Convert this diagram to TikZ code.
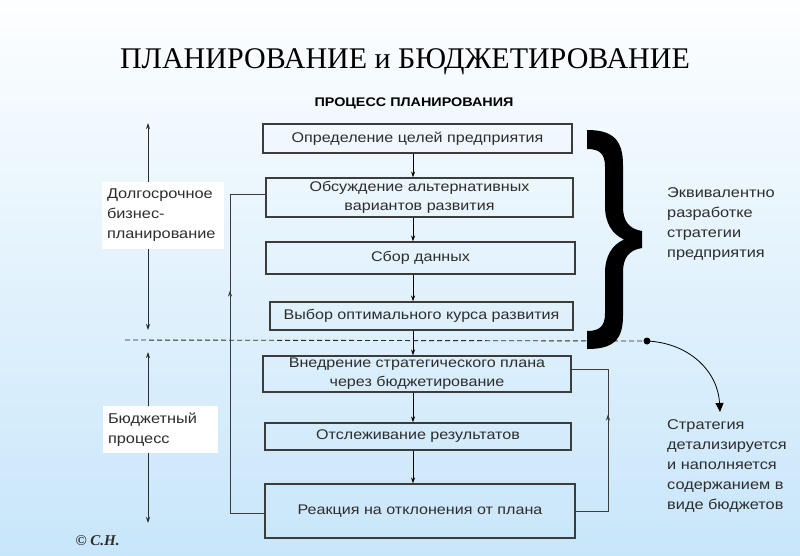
\documentclass[tikz,border=0pt]{standalone}
\usepackage{fontspec}
\setmainfont{Liberation Sans}[FakeStretch=1.15]
\newfontfamily\serifttl{Liberation Serif}
\usetikzlibrary{arrows.meta,decorations.markings}
\definecolor{bgtop}{RGB}{253,254,255}
\definecolor{bgbot}{RGB}{200,230,250}
\definecolor{ink}{RGB}{45,45,45}
\definecolor{frame}{RGB}{60,60,60}
\tikzset{
  x=1pt,y=-1pt,
  stepbox/.style={draw=frame,line width=1.1pt,inner sep=2pt,align=center,
    font=\fontsize{14}{19}\selectfont,text=ink},
  sidebox/.style={fill=white,align=left,inner sep=5pt,
    font=\fontsize{14.2}{20}\selectfont,text=ink},
  sidetext/.style={align=left,anchor=north west,inner sep=0pt,
    font=\fontsize{14.2}{20}\selectfont,text=ink},
  arr/.style={draw=black,line width=0.8pt,-{Stealth[length=6pt,width=4pt]}},
  dbl/.style={draw=ink,line width=0.9pt,{Stealth[length=6pt,width=4pt]}-{Stealth[length=6pt,width=4pt]}},
  fbline/.style={draw=frame,line width=1pt},
}
\begin{document}
\begin{tikzpicture}
\shade[top color=bgtop,bottom color=bgbot] (0,0) rectangle (800,555);
\useasboundingbox (0,0) rectangle (800,555);

% titles
\node[font=\serifttl\fontsize{30}{34}\selectfont,text=black] (title) at (405,62) {ПЛАНИРОВАНИЕ и БЮДЖЕТИРОВАНИЕ};
\node[font=\bfseries\fontsize{12.5}{14}\selectfont,text=black] (sub) at (414,103) {ПРОЦЕСС ПЛАНИРОВАНИЯ};

% step boxes
\node[stepbox,minimum width=309,minimum height=29] (b1) at (417.5,138.5) {Определение целей предприятия};
\node[stepbox,minimum width=307,minimum height=39] (b2) at (419.5,197.5) {Обсуждение альтернативных\\вариантов развития};
\node[stepbox,minimum width=309,minimum height=32] (b3) at (420.5,258) {Сбор данных};
\node[stepbox,minimum width=303,minimum height=28] (b4) at (421.5,316) {Выбор оптимального курса развития};
\node[stepbox,minimum width=308,minimum height=36] (b5) at (417,374) {Внедрение стратегического плана\\через бюджетирование};
\node[stepbox,minimum width=306,minimum height=27] (b6) at (418,436.5) {Отслеживание результатов};
\node[stepbox,minimum width=310,minimum height=54] (b7) at (420,511) {Реакция на отклонения от плана};

% vertical flow arrows
\coordinate (ax) at (413,0);
\draw[arr] (b1.south -| ax) -- (b2.north -| ax);
\draw[arr] (b2.south -| ax) -- (b3.north -| ax);
\draw[arr] (b3.south -| ax) -- (b4.north -| ax);
\draw[arr] (b4.south -| ax) -- (b5.north -| ax);
\draw[arr] (b5.south -| ax) -- (b6.north -| ax);
\draw[arr] (b6.south -| ax) -- (b7.north -| ax);

% dashed separator
\coordinate (dl) at (125,340);
\coordinate (dot) at (647,341);
\draw[draw=ink,line width=0.9pt,dash pattern=on 5pt off 3pt] (dl) -- (dot);

% left feedback loop
\coordinate (lx) at (230,0);
\draw[fbline,postaction={decorate},
  decoration={markings,mark=at position 257pt with {\arrow{Stealth[length=6pt,width=4pt]}}}]
  ([yshift=-2pt]b7.west) -- ([yshift=-2pt]b7.west -| lx) -- ([yshift=3pt]b2.west -| lx) -- ([yshift=3pt]b2.west);

% right feedback loop
\coordinate (rx) at (608,0);
\draw[fbline,postaction={decorate},
  decoration={markings,mark=at position 129pt with {\arrow{Stealth[length=6pt,width=4pt]}}}]
  (b7.east) -- (b7.east -| rx) -- ([yshift=5pt]b5.east -| rx) -- ([yshift=5pt]b5.east);

% left range arrows with labels
\coordinate (u1) at (148,123);
\coordinate (u2) at (148,330);
\coordinate (l1) at (148,352);
\coordinate (l2) at (148,523);
\draw[dbl] (u1) -- (u2);
\draw[dbl] (l1) -- (l2);
\node[sidebox,minimum width=122,minimum height=67,text width=112] (t1) at (163,215) {Долгосрочное\\бизнес-\\планирование};
\node[sidebox,minimum width=115,minimum height=47,text width=105] (t2) at (160.5,429.5) {Бюджетный\\процесс};

% brace
\fill[black] (587,130)
  .. controls (612,130) and (623,139) .. (623,165)
  -- (623,207)
  .. controls (623,221) and (629,229) .. (642,231)
  -- (642,248)
  .. controls (629,250) and (623,258) .. (623,272)
  -- (623,316)
  .. controls (623,341) and (612,349) .. (587,349)
  -- (587,331)
  .. controls (600,331) and (605,326) .. (605,313)
  -- (605,273)
  .. controls (605,256) and (612,245) .. (624,239.5)
  .. controls (612,234) and (605,223) .. (605,206)
  -- (605,167)
  .. controls (605,154) and (600,149) .. (587,149)
  -- cycle;

% right texts
\node[sidetext] (r1) at (667,187) {Эквивалентно\\разработке\\стратегии\\предприятия};
\node[sidetext] (r2) at (667,419) {Стратегия\\детализируется\\и наполняется\\содержанием в\\виде бюджетов};

% curved pointer
\fill[black] (dot) circle (3.5pt);
\coordinate (ptip) at (720,412);
\draw[draw=black,line width=0.8pt,-{Triangle[length=9pt,width=8pt]}] (dot) .. controls (690,343) and (718,372) .. (ptip);

% copyright
\node[font=\serifttl\bfseries\itshape\fontsize{15}{17}\selectfont,text=ink,anchor=west] (copy) at (72,541) {© С.Н.};
\end{tikzpicture}
\end{document}
